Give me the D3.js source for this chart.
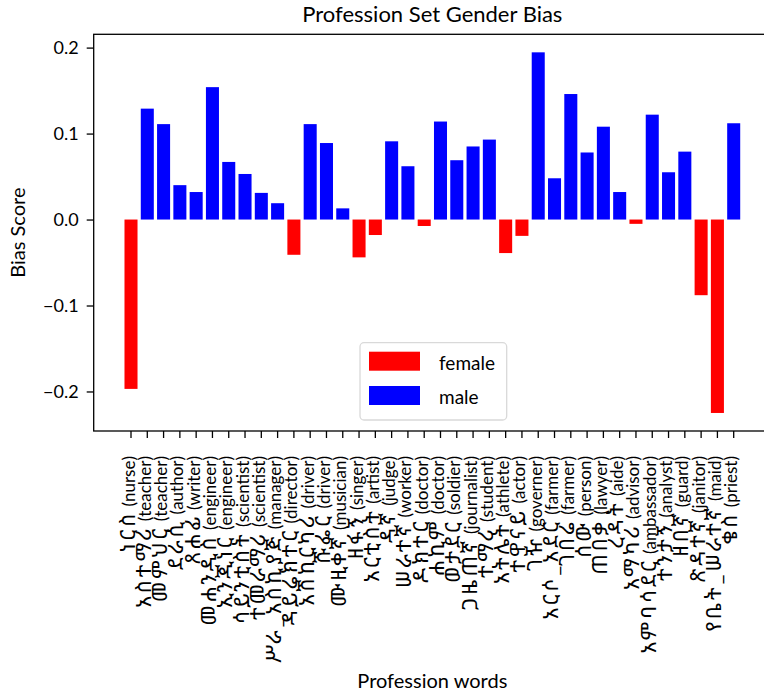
<!DOCTYPE html>
<html>
<head>
<meta charset="utf-8">
<script src="https://cdn.jsdelivr.net/npm/d3@7"></script>
<style>
  html, body { margin: 0; padding: 0; background: #fff; }
  svg { display: block; }
  text { font-family: "Lato", "Noto Sans Ethiopic", "Noto Serif Ethiopic", sans-serif; fill: #000; }
</style>
</head>
<body>
<svg id="chart" width="764" height="695"></svg>
<script>
// english gloss for each word
const professions = [
  "nurse", "teacher", "teacher", "author", "writer", "engineer", "engineer",
  "scientist", "scientist", "manager", "director", "driver", "driver",
  "musician", "singer", "artist", "judge", "worker", "doctor", "doctor",
  "soldier", "journalist", "student", "athlete", "actor", "governer",
  "farmer", "farmer", "person", "lawyer", "aide", "advisor", "ambassador",
  "analyst", "guard", "janitor", "maid", "priest"
];

const amharicWords = [
  "ነርስ", "አስተማሪ", "መምህር", "ደራሲ", "ጸሐፊ", "መሐንዲስ", "ኢንጂነር",
  "ሳይንቲስት", "ተመራማሪ", "ሥራ_አስኪያጅ", "ዳይሬክተር", "አሽከርካሪ", "ሹፌር",
  "ሙዚቀኛ", "ዘፋኝ", "አርቲስት", "ዳኛ", "ሠራተኛ", "ዶክተር", "ሐኪም",
  "ወታደር", "ጋዜጠኛ", "ተማሪ", "አትሌት", "ተዋናይ", "ገዥ",
  "አርሶ_አደር", "ገበሬ", "ሰው", "ጠበቃ", "ረዳት", "አማካሪ", "አምባሳደር",
  "ተንታኝ", "ዘበኛ", "ጽዳተኛ", "የቤት_ሠራተኛ", "ቄስ"
];

const biasScores = [
  -0.197, 0.129, 0.111, 0.040, 0.032, 0.154, 0.067,
  0.053, 0.031, 0.019, -0.041, 0.111, 0.089,
  0.013, -0.044, -0.018, 0.091, 0.062, -0.0075, 0.114,
  0.069, 0.085, 0.093, -0.039, -0.019, 0.1945,
  0.048, 0.146, 0.078, 0.108, 0.032, -0.005, 0.122,
  0.055, 0.079, -0.088, -0.225, 0.112
];

const genders = ["female", "male"];
const genderColors = ["#ff0000", "#0000ff"];

const data = professions.map((p, i) => ({
  word: amharicWords[i],
  gloss: p,
  value: biasScores[i],
  gender: biasScores[i] < 0 ? "female" : "male"
}));

const svg = d3.select("#chart");
const plotLeft = 93.7, plotRight = 771, plotTop = 34.3, plotBottom = 431;

const x = d3.scaleBand()
  .domain(d3.range(data.length))
  .range([plotLeft, plotRight])
  .paddingInner(0.2)
  .paddingOuter(1.89);

const [lo, hi] = d3.extent(biasScores);
const pad = (hi - lo) * 0.05;
const y = d3.scaleLinear()
  .domain([lo - pad, hi + pad])
  .range([plotBottom, plotTop]);

const color = d3.scaleOrdinal().domain(genders).range(genderColors);

// bars
svg.append("g")
  .selectAll("rect")
  .data(data)
  .enter()
  .append("rect")
    .attr("x", (d, i) => x(i))
    .attr("width", x.bandwidth())
    .attr("y", d => y(Math.max(0, d.value)))
    .attr("height", d => Math.abs(y(d.value) - y(0)))
    .attr("fill", d => color(d.gender));

// y axis
const yAxis = d3.axisLeft(y).tickValues([-0.2, -0.1, 0, 0.1, 0.2]).tickFormat(d3.format(".1f")).tickSize(7).tickPadding(8);
const gy = svg.append("g").attr("transform", `translate(${plotLeft},0)`).call(yAxis);
gy.select(".domain").remove();
gy.selectAll(".tick line").attr("stroke", "#000").attr("stroke-width", 1.3);
gy.selectAll(".tick text").style("font-size", "18px").style("font-family", null);

// x axis
const xAxis = d3.axisBottom(x).tickFormat(() => "").tickSize(7);
const gx = svg.append("g").attr("transform", `translate(0,${plotBottom})`).call(xAxis);
gx.select(".domain").remove();
gx.selectAll(".tick line").attr("stroke", "#000").attr("stroke-width", 1.3);
gx.selectAll(".tick text")
  .attr("text-anchor", "end")
  .attr("transform", "translate(0,25) rotate(-90)")
  .attr("x", 0)
  .attr("y", 0)
  .attr("dy", "0.35em")
  .each(function (i) {
    const t = d3.select(this);
    t.append("tspan").style("font-size", "21px").style("letter-spacing", "3px").text(data[i].word);
    t.append("tspan").style("font-size", "17px").text(" (" + data[i].gloss + ")");
  });

// spines
svg.append("rect")
  .attr("x", plotLeft).attr("y", plotTop)
  .attr("width", plotRight - plotLeft).attr("height", plotBottom - plotTop)
  .attr("fill", "none").attr("stroke", "#000").attr("stroke-width", 1.3);

// title and axis labels
svg.append("text")
  .attr("x", (plotLeft + plotRight) / 2).attr("y", 22)
  .attr("text-anchor", "middle")
  .style("font-size", "22px")
  .text("Profession Set Gender Bias");

svg.append("text")
  .attr("transform", `translate(25,${(plotTop + plotBottom) / 2}) rotate(-90)`)
  .attr("text-anchor", "middle")
  .style("font-size", "20px")
  .text("Bias Score");

svg.append("text")
  .attr("x", (plotLeft + plotRight) / 2).attr("y", 688)
  .attr("text-anchor", "middle")
  .style("font-size", "20px")
  .text("Profession words");

// legend
const legend = svg.append("g").attr("transform", "translate(360,342.7)");
legend.append("rect")
  .attr("width", 146.7).attr("height", 77.3)
  .attr("rx", 4)
  .attr("fill", "#fff").attr("fill-opacity", 0.8)
  .attr("stroke", "#d9d9d9").attr("stroke-width", 1.3);

genders.forEach((g, i) => {
  const row = legend.append("g").attr("transform", `translate(9,${9 + i * 34.3})`);
  row.append("rect").attr("width", 51).attr("height", 19).attr("fill", color(g));
  row.append("text").attr("x", 70).attr("y", 18).style("font-size", "19px").text(g);
});
</script>
</body>
</html>
